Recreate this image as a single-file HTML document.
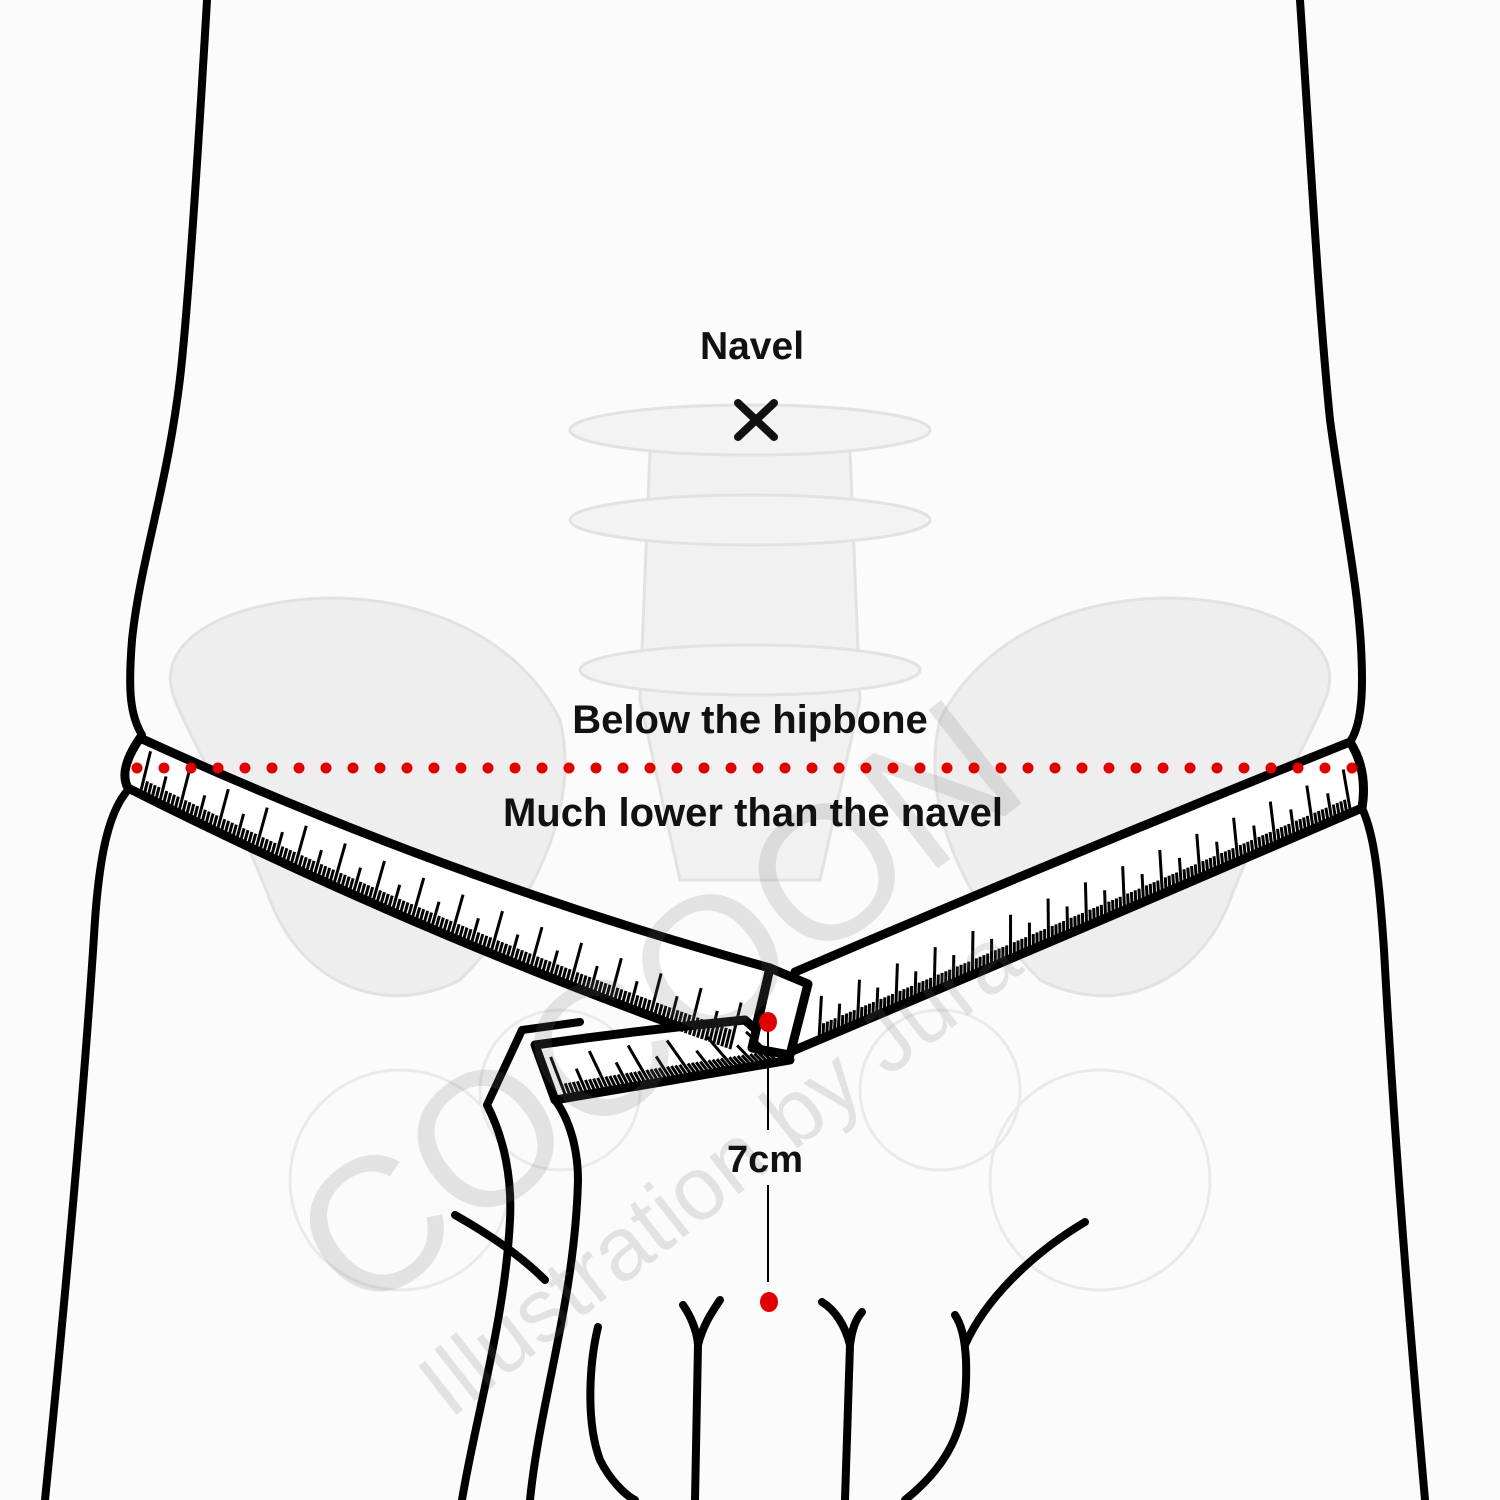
<!DOCTYPE html>
<html><head><meta charset="utf-8"><style>
html,body{margin:0;padding:0;background:#fbfbfb}
svg{display:block}
text{font-family:"Liberation Sans",sans-serif}
</style></head><body>
<svg id="s" width="1500" height="1500" viewBox="0 0 1500 1500" xmlns="http://www.w3.org/2000/svg">
<rect width="1500" height="1500" fill="#fbfbfb"/>
<g fill="#eeeeee" stroke="#e2e2e2" stroke-width="3">
<path d="M175,700 C150,640 230,600 330,598 C430,598 520,640 560,720 C580,800 540,900 460,980 C380,1020 300,980 270,900 C240,820 200,760 175,700Z"/>
<path d="M1325,700 C1350,640 1270,600 1170,598 C1070,598 980,640 940,720 C920,800 960,900 1040,980 C1120,1020 1200,980 1230,900 C1260,820 1300,760 1325,700Z"/>
<path d="M650,450 L850,450 L860,700 L820,880 L680,880 L640,700Z" fill="#f1f1f1"/>
<ellipse cx="750" cy="430" rx="180" ry="25" fill="#f3f3f3"/>
<ellipse cx="750" cy="520" rx="180" ry="25" fill="#f3f3f3"/>
<ellipse cx="750" cy="670" rx="170" ry="25" fill="#f3f3f3"/>
</g>
<g fill="none" stroke="#eaeaea" stroke-width="3">
<circle cx="400" cy="1180" r="110"/><circle cx="1100" cy="1180" r="110"/>
<circle cx="560" cy="1090" r="80"/><circle cx="940" cy="1090" r="80"/>
</g>
<g fill="none" stroke="#000" stroke-width="8" stroke-linecap="round" stroke-linejoin="round">
<path d="M207,0 C200,120 190,280 182,360 C170,480 140,560 132,640 C128,690 130,715 142,735"/>
<path d="M1300,0 C1310,150 1318,300 1330,420 C1345,530 1362,600 1362,680 C1362,710 1358,730 1350,742"/>
<path d="M128,790 C110,810 100,850 95,920 C85,1080 65,1300 45,1500"/>
<path d="M1362,808 C1372,830 1378,860 1384,950 C1395,1150 1410,1330 1425,1500"/>
</g>
<g stroke="#000" stroke-width="9" stroke-linejoin="round" fill="#fff">
<path d="M140,738 Q450,880 770,968 L750,1052 Q430,940 128,788 Q118,770 140,738Z"/>
<path d="M795,972 Q1080,850 1350,742 Q1368,770 1362,808 Q1080,930 790,1052Z"/>
<path d="M535,1045 Q640,1030 745,1020 L790,1060 Q670,1080 555,1100Z"/>
<path d="M770,968 L808,984 L790,1055 L752,1048Z"/>
</g>
<g id="ticks" stroke="#000" stroke-width="3"></g>
<g fill="none" stroke="#000" stroke-width="8" stroke-linecap="round" stroke-linejoin="round">
<path d="M580,1022 L522,1030 L487,1105 C505,1140 512,1180 510,1220 C505,1320 475,1420 462,1500"/>
<path d="M555,1100 C570,1120 578,1150 578,1180 C575,1300 540,1400 530,1500"/>
<path d="M455,1215 C490,1235 520,1255 545,1280"/>
<path d="M598,1327 C590,1360 585,1420 600,1460 C610,1480 625,1495 635,1500"/>
<path d="M683,1305 C690,1315 697,1330 698,1345 C703,1325 712,1312 720,1300 M698,1345 L695,1500"/>
<path d="M822,1302 C835,1310 845,1325 850,1345 C852,1330 855,1320 862,1312 M850,1345 L845,1500"/>
<path d="M1085,1222 C1030,1255 985,1300 965,1345 M955,1315 C962,1325 965,1340 966,1360 C968,1420 955,1460 905,1500"/>
</g>
<g opacity="0.18" fill="#777" font-family="Liberation Serif,serif">
<text x="360" y="1320" font-size="190" transform="rotate(-38 360 1320)">COCOON</text>
<text x="450" y="1420" font-size="90" transform="rotate(-38 450 1420)">Illustration by Jura</text>
</g>
<text x="752" y="359" font-size="39" font-weight="bold" text-anchor="middle" fill="#111">Navel</text>
<path d="M738,403 L774,437 M774,403 L738,437" stroke="#111" stroke-width="8" stroke-linecap="round"/>
<text x="750" y="733" font-size="40" font-weight="bold" text-anchor="middle" fill="#111">Below the hipbone</text>
<g id="dots" fill="#e00000"></g>
<text x="753" y="826" font-size="40" font-weight="bold" text-anchor="middle" fill="#111">Much lower than the navel</text>
<line x1="768" y1="1030" x2="768" y2="1130" stroke="#000" stroke-width="2"/>
<line x1="768" y1="1185" x2="768" y2="1282" stroke="#000" stroke-width="2"/>
<text x="765" y="1172" font-size="38" font-weight="bold" text-anchor="middle" fill="#111">7cm</text>
<ellipse cx="768" cy="1022" rx="9" ry="10" fill="#e00000"/>
<ellipse cx="769" cy="1302" rx="9" ry="10" fill="#e00000"/>
</svg>
<script>
var NS="http://www.w3.org/2000/svg";
var d=document.getElementById('dots');
for(var k=0;k<=45;k++){var x=137+k*27;var c=document.createElementNS(NS,'circle');c.setAttribute('cx',x);c.setAttribute('cy',768);c.setAttribute('r',5.5);d.appendChild(c);}
var g=document.getElementById('ticks');
function band(p0,p1,p2,q0,q1,q2,n,t0,t1){
 for(var i=0;i<=n;i++){
  var t=t0+(t1-t0)*i/n;
  function Q(a,b,c){return [(1-t)*(1-t)*a[0]+2*t*(1-t)*b[0]+t*t*c[0],(1-t)*(1-t)*a[1]+2*t*(1-t)*b[1]+t*t*c[1]];}
  var b=Q(q0,q1,q2),a=Q(p0,p1,p2);
  var dx=a[0]-b[0],dy=a[1]-b[1],L=Math.hypot(dx,dy);dx/=L;dy/=L;
  var len=(i%10==0)?44:(i%5==0)?28:15;
  var l=document.createElementNS(NS,'line');
  l.setAttribute('x1',b[0]-dx*4);l.setAttribute('y1',b[1]-dy*4);
  l.setAttribute('x2',b[0]+dx*len);l.setAttribute('y2',b[1]+dy*len);
  g.appendChild(l);
 }
}
band([140,738],[450,880],[770,968],[128,788],[430,940],[750,1052],150,0.02,0.97);
band([1350,742],[1080,850],[795,972],[1362,808],[1080,930],[790,1052],140,0.02,0.95);
band([745,1020],[640,1030],[535,1045],[790,1060],[670,1080],[555,1100],50,0.05,0.95);
</script>
</body></html>
